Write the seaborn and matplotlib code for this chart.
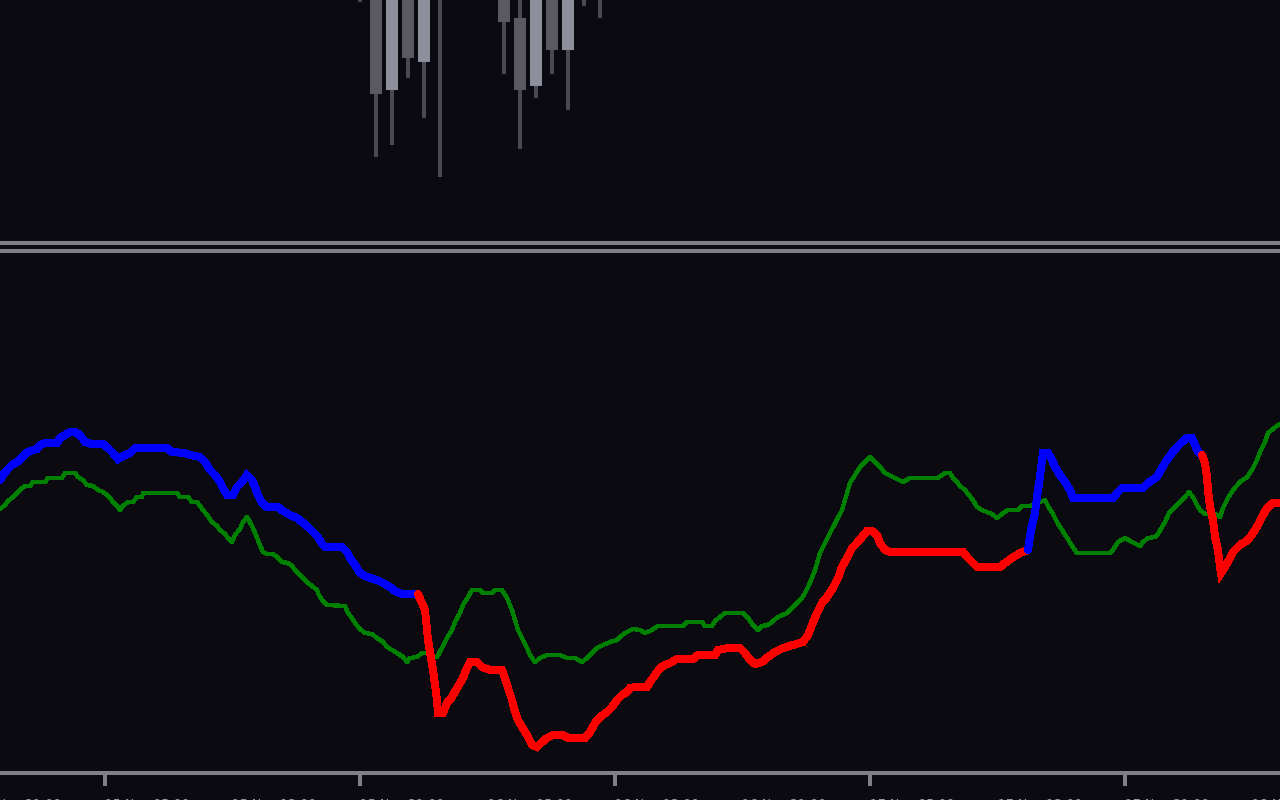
import numpy as np
import pandas as pd
import matplotlib
matplotlib.use("Agg")
import matplotlib.pyplot as plt
import matplotlib.transforms as mtransforms
import seaborn as sns

# ---- price candles (top window), bar index = M15 bars, one H1 candle every 4 bars
candle_bar = [90, 94, 98, 102, 106, 110, 114, 118, 122, 126, 130, 134, 138, 142, 146, 150]
candle_open = [1.13260, 1.13240, 1.13103, 1.13230, 1.13131, 1.13210, 1.13230, 1.13240, 1.13225,
               1.13240, 1.13175, 1.13107, 1.13220, 1.13143, 1.13230, 1.13210]
candle_high = [1.13300, 1.13270, 1.13260, 1.13250, 1.13240, 1.13260, 1.13270, 1.13280, 1.13260,
               1.13260, 1.13220, 1.13240, 1.13235, 1.13250, 1.13260, 1.13250]
candle_low = [1.13191, 1.13036, 1.13048, 1.13115, 1.13075, 1.13016, 1.13200, 1.13215, 1.13205,
              1.13119, 1.13044, 1.13095, 1.13119, 1.13083, 1.13187, 1.13175]
candle_close = [1.13230, 1.13099, 1.13220, 1.13135, 1.13215, 1.13198, 1.13215, 1.13228, 1.13240,
                1.13171, 1.13103, 1.13215, 1.13143, 1.13230, 1.13215, 1.13225]

# ---- indicator (bottom window): signal line (green)
signal_bar = [0, 1.25, 2, 3.25, 4.25, 5.25, 6.25, 7.5, 8.25, 11.25, 12, 15.5, 16.25, 18.75, 19.5,
              20.75, 21.75, 23.25, 24.5, 25.75, 26.75, 27.5, 28.25, 29.25, 30, 30.75, 32, 33.25,
              34.25, 35.5, 35.75, 44.25, 45, 47, 48, 49.25, 50, 50.75, 51.75, 53, 54.25, 55, 56.25,
              57, 58, 58.75, 60, 60.75, 61.75, 63, 64, 64.75, 65.75, 66.75, 68.25, 69.25, 70.5, 72,
              73, 73.75, 74.75, 75.75, 77, 78, 79.25, 79.75, 80.5, 81.75, 86.25, 87, 88, 88.75, 90,
              91.25, 93, 94.25, 95.75, 96.75, 98, 99.25, 100.75, 101.75, 102.5, 104.25, 105.5,
              106.75, 107.5, 109.25, 110.5, 111.75, 113, 113.75, 115, 115.75, 117, 118, 120, 120.75,
              123, 123.75, 125.5, 126.75, 128, 128.75, 129.5, 130.75, 131.75, 132.5, 133.75, 135,
              136.75, 140, 141.75, 143.75, 145.5, 146.75, 148, 149.25, 150.75, 152.5, 154.25, 155,
              156.25, 158.25, 160, 161.25, 163, 164.5, 170.75, 171.75, 175.5, 176.25, 178, 178.75,
              180, 181.25, 185.75, 187, 188.25, 189.5, 190.5, 192, 193, 194.5, 196.75, 198, 199.25,
              200.5, 201.25, 202, 203, 203.75, 205, 207.5, 210.5, 212.5, 215, 217.5, 218.75, 220,
              221.25, 223.75, 225.75, 227.5, 234.5, 236.25, 237.5, 238.25, 239.25, 240, 241.25, 242,
              243.25, 244.25, 245.5, 248, 249.25, 250.5, 252, 254.5, 255.5, 257.5, 261.25, 262,
              263.25, 264.25, 265.5, 266.25, 267.25, 268.25, 269.25, 277.5, 278.25, 279.5, 281.25,
              283, 285, 285.75, 287, 288.75, 289.5, 290.5, 291.25, 292.25, 293.25, 295, 296.25,
              297.25, 298.25, 299.25, 300, 301.25, 303.75, 305, 305.75, 307, 308.25, 310, 311.75,
              313, 314.25, 315, 316.25, 317, 318.25, 319.5, 320]
signal_val = [26.4, 26.8, 27.2, 27.6, 28.0, 28.4, 28.7, 28.7, 29.1, 29.1, 29.5, 29.5, 30.0, 30.0, 29.6,
              29.3, 28.8, 28.7, 28.3, 28.1, 27.8, 27.5, 27.1, 26.7, 26.3, 26.7, 27.1, 27.1,
              27.6, 27.6, 28.0, 28.0, 27.6, 27.6, 27.1, 27.1, 26.7, 26.3, 25.8, 25.1, 24.7, 24.3, 23.9,
              23.5, 23.1, 23.8, 24.4, 25.1, 25.6, 24.7, 23.8, 23.0, 22.1, 21.9, 21.9, 21.6, 21.1, 21.0,
              20.7, 20.3, 19.9, 19.5, 19.0, 18.7, 18.3, 17.8, 17.3, 16.8, 16.7, 16.0, 15.5, 15.0, 14.4,
              14.0, 13.9, 13.5, 13.1, 12.6, 12.3, 12.0, 11.6, 11.1, 11.5, 11.6, 12.0,
              12.0, 11.6, 11.6, 12.5, 13.5, 14.3, 15.1, 16.0, 16.8, 17.6, 18.3, 18.3, 18.0,
              18.0, 18.3, 18.3, 17.5, 16.3, 15.3, 14.3, 13.3, 12.5, 11.8, 11.1, 11.5,
              11.8, 11.8, 11.5, 11.5, 11.1, 11.5, 12.0, 12.5, 12.8, 13.1, 13.3, 13.6,
              14.0, 14.4, 14.3, 14.0, 14.3, 14.7, 14.7, 15.1, 15.1, 14.7, 14.7, 15.2,
              15.6, 16.0, 16.0, 15.5, 14.8, 14.3, 14.7, 14.8, 15.1, 15.6, 16.0, 16.5, 17.0,
              17.5, 18.0, 18.6, 19.5, 20.3, 22.0, 24.0, 26.3, 29.0, 30.6, 31.6, 31.1, 30.6,
              30.0, 29.5, 29.1, 29.5, 29.5, 30.0, 30.0, 29.5, 29.1, 28.7, 28.3, 27.9,
              27.3, 26.6, 26.3, 25.9, 25.5, 25.9, 26.3, 26.3, 26.7, 26.7, 27.3, 26.7,
              25.9, 25.1, 24.3, 23.8, 23.2, 22.6, 22.0, 22.0, 22.3, 23.1, 23.5,
              23.1, 22.7, 23.1, 23.5, 23.6, 23.9, 24.6, 25.1, 26.0, 26.4, 27.1, 27.6,
              28.1, 27.6, 26.8, 26.3, 25.9, 25.9, 25.6, 26.5, 27.5, 28.3, 29.1, 29.6,
              30.3, 31.3, 32.1, 33.1, 34.0, 34.4, 34.8, 34.9]

# ---- indicator main line (thick, blue in up trend / red in down trend)
main_bar = [0, 0.75, 1.75, 3, 4.25, 5.5, 6.25, 7.5, 9.25, 10, 11.25, 14.25, 15, 16.25, 17.5, 18.75,
            20, 21.25, 23, 25.75, 27, 28.25, 29.5, 30.75, 32.5, 33.75, 41.75, 43, 46.25, 47.5, 50,
            51.25, 52.5, 53.75, 55, 55.75, 56.75, 58.25, 59.25, 60.5, 61.75, 63, 63.75, 64.5, 65.5,
            66.75, 69.5, 70.75, 72.5, 74.25, 75.5, 77, 78.25, 79.5, 80.5, 81.25, 85.5, 86.75, 87.5,
            88.75, 90, 91.75, 94.25, 95.75, 97.5, 98.75, 100.5, 104.5,
            106.25, 107, 108.25, 109.25, 109.5, 110.75, 111.75, 113, 114.25, 115.5, 116.75, 117.5,
            119.25, 120.5, 122.5, 125.5, 126.25, 127, 128, 128.75, 129.5, 130.5, 131.75, 133,
            134.25, 135.5, 136.75, 138.25, 140.75, 142, 146.25, 147.5, 148.75, 150, 151.75, 153,
            154.25, 155.5, 156.75, 157.5, 158.75, 161.75, 162.5, 163.75, 165, 166.25, 167.5,
            169.25, 173.25, 174.5, 178.75, 179.5, 182, 185, 186.25, 187.5, 188.75, 190.5, 192,
            193.75, 195.75, 198.25, 200.75, 202, 203, 204.25, 205.5, 206.75, 208.25, 209.5, 210.5,
            211.75, 213, 214.25, 215.5, 216.75, 218, 219.25, 220, 221.25, 222.5, 240.75, 241.75,
            243, 244.25, 250, 251.25, 253, 255, 257,
            257.75, 258.75, 259.25, 260, 260.75, 262, 263, 263.75, 265, 266.25, 267.5, 268.25,
            278.25, 279.25, 280.5, 285.75, 287, 289.25, 290.5, 291.75, 293, 294.25, 295.5, 296.75,
            298, 298.75, 299.5, 300.5,
            301.25, 301.75, 302, 302.5, 303.25, 303.75, 304.5, 305, 305.25, 306.25, 307.5, 308.25,
            310, 312, 313.25, 314.5, 315.5, 316.75, 318.25, 320]
main_val = [29.3, 29.8, 30.3, 30.8, 31.1, 31.5, 31.9, 32.2, 32.4, 32.8, 33.0, 33.0, 33.5, 33.8, 34.1, 34.1,
            33.8, 33.1, 32.9, 32.9, 32.5, 32.0, 31.4, 31.7, 32.0, 32.5, 32.5, 32.1, 32.0, 31.8, 31.6,
            31.1, 30.3, 29.8, 29.1, 28.5, 27.8, 27.8, 28.6, 29.1, 29.8, 29.3, 28.6, 27.8, 27.0,
            26.6, 26.6, 26.2, 25.8, 25.5, 25.1, 24.6, 24.1, 23.6, 22.9, 22.6, 22.6, 22.1, 21.5,
            20.8, 20.0, 19.6, 19.3, 19.0, 18.6, 18.2, 17.9, 17.9,
            16.3, 13.3, 10.3, 7.3, 6.0, 6.0, 7.0, 7.6, 8.5, 9.3, 10.5, 11.1,
            11.1, 10.6, 10.3, 10.3, 9.5, 8.5, 7.3, 6.1, 5.3, 4.6, 3.8, 2.8,
            2.6, 3.1, 3.5, 3.8, 3.8, 3.5, 3.5, 4.1, 5.0, 5.6, 6.1, 6.6,
            7.3, 7.8, 8.1, 8.5, 8.6, 8.6, 9.1, 9.8, 10.5, 10.8, 11.0,
            11.4, 11.4, 11.8, 11.8, 12.3, 12.5, 12.5, 12.0, 11.3, 10.9, 11.1, 11.6,
            12.1, 12.5, 12.8, 13.1, 13.8, 14.8, 16.0, 17.0, 17.6, 18.5, 19.5, 20.6,
            21.5, 22.5, 23.0, 23.6, 24.2, 24.2, 23.8, 23.0, 22.3, 22.1, 22.1, 21.6,
            21.1, 20.6, 20.6, 21.0, 21.5, 22.0, 22.3,
            24.3, 26.0, 27.6, 29.6, 32.0, 32.0, 31.3, 30.6, 29.8, 29.1, 28.3, 27.5,
            27.5, 28.0, 28.5, 28.5, 29.0, 29.6, 30.5, 31.3, 32.0, 32.6, 33.1, 33.5,
            33.5, 32.8, 32.1, 31.8,
            31.0, 29.6, 28.3, 26.6, 25.3, 23.6, 22.3, 20.6, 20.0, 20.6, 21.5, 22.1,
            22.8, 23.3, 24.0, 24.8, 25.6, 26.5, 27.0, 27.0]

# bars where the main line changes colour (starts in up trend)
trend_switch = [104.5, 257, 300.5]

# time axis
tick_bars = [26.25, 90, 153.75, 217.5, 281.25]
label_bars = [-5.75, 26.25, 58.1, 90, 121.9, 153.75, 185.6, 217.5, 249.4, 281.25, 313.1]
label_text = ["14 Nov 21:00", "15 Nov 05:00", "15 Nov 13:00", "15 Nov 21:00", "16 Nov 05:00",
              "16 Nov 13:00", "16 Nov 21:00", "17 Nov 05:00", "17 Nov 13:00", "17 Nov 21:00",
              "18 Nov 05:00"]

# colours
bg = "#0a0a10"
sep = "#7f7f87"
up_col, down_col, sig_col = "#0000ff", "#ff0000", "#008000"

sns.set_theme(style="dark", rc={"axes.facecolor": bg, "figure.facecolor": bg,
                                "axes.grid": False})
plt.rcParams["font.family"] = ["DejaVu Sans"]

fig = plt.figure(figsize=(12.8, 8), dpi=100)
ax_top = fig.add_axes([0, 0.69625, 1, 0.30375])
ax_bot = fig.add_axes([0, 0.03375, 1, 0.6525])

# ---- candles
c = pd.DataFrame({"bar": candle_bar, "open": candle_open, "high": candle_high,
                  "low": candle_low, "close": candle_close})
bull = c["close"] >= c["open"]
ax_top.vlines(c["bar"], c["low"], c["high"], color="#4b4b52", lw=2.8, zorder=1)
ax_top.bar(c["bar"], (c["close"] - c["open"]).abs(), bottom=c[["open", "close"]].min(axis=1),
           width=3, color=np.where(bull, "#8e8f9c", "#5a5b60"), edgecolor="none",
           linewidth=0, zorder=2)
ax_top.set_xlim(0, 320)
ax_top.set_ylim(1.12950, 1.13193)

# ---- indicator lines
sig = pd.DataFrame({"bar": signal_bar, "value": signal_val})
sns.lineplot(data=sig, x="bar", y="value", color=sig_col, lw=2.4, ax=ax_bot,
             sort=False, estimator=None, antialiased=False)

main = pd.DataFrame({"bar": main_bar, "value": main_val})
edges = [0] + trend_switch + [320]
for i in range(len(edges) - 1):
    seg = main[(main["bar"] >= edges[i]) & (main["bar"] <= edges[i + 1])]
    sns.lineplot(data=seg, x="bar", y="value", color=up_col if i % 2 == 0 else down_col,
                 lw=5, ax=ax_bot, sort=False, estimator=None, antialiased=False,
                 solid_joinstyle="miter")

ax_bot.set_xlim(0, 320)
ax_bot.set_ylim(0, 52.2)

# ---- frame: separator lines and time axis
for ax in (ax_top, ax_bot):
    ax.set_xlabel("")
    ax.set_ylabel("")
    ax.set_yticks([])
    for s in ax.spines.values():
        s.set_visible(False)
        s.set_color(sep)
        s.set_linewidth(2.9)

ax_top.set_xticks([])
ax_top.spines["bottom"].set_visible(True)
ax_bot.spines["top"].set_visible(True)
ax_bot.spines["bottom"].set_visible(True)

ax_bot.set_xticks(tick_bars)
ax_bot.set_xticklabels([])
ax_bot.tick_params(axis="x", direction="out", length=9.5, width=2.9, color=sep, bottom=True)

# time labels sit at the very bottom edge, only their top is in view
trans = mtransforms.blended_transform_factory(ax_bot.transData, fig.transFigure)
for b, t in zip(label_bars, label_text):
    ax_bot.text(b, 0.003, t, transform=trans, ha="left", va="top", fontsize=9,
                color="#9a9cab", clip_on=False)

fig.savefig("out.png", dpi=100, facecolor=bg)
